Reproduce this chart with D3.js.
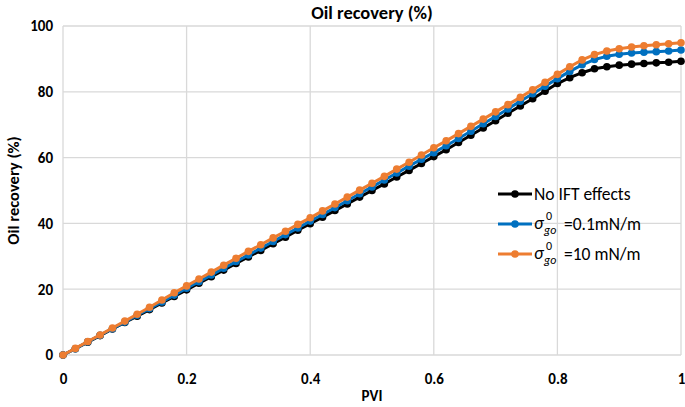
<!DOCTYPE html>
<html><head><meta charset="utf-8">
<script src="https://cdn.jsdelivr.net/npm/d3@7"></script>
<style>
body{margin:0;background:#fff;}
text{font-family:Carlito,Calibri,Lato,sans-serif;}
</style></head>
<body><svg id="c" width="685" height="407"></svg>
<script>
const pvi = d3.range(0, 51).map(i => +(i * 0.02).toFixed(2));
const noIFT = [0, 1.9, 3.9, 5.9, 7.9, 9.9, 11.8, 13.8, 15.8, 17.8, 19.8,
  21.8, 23.8, 25.8, 27.8, 29.8, 31.8, 33.8, 35.8, 37.9, 39.9,
  41.9, 43.9, 45.9, 48.0, 50.0, 52.0, 54.1, 56.1, 58.2, 60.3,
  62.4, 64.6, 66.8, 69.0, 71.2, 73.5, 75.7, 77.9, 80.2, 82.5,
  84.3, 85.8, 87.0, 87.6, 88.1, 88.4, 88.6, 88.8, 89.0, 89.3];
const sigma01 = [0, 1.9, 4.0, 6.0, 8.0, 10.0, 12.1, 14.1, 16.1, 18.2, 20.3,
  22.3, 24.3, 26.4, 28.4, 30.4, 32.5, 34.5, 36.6, 38.6, 40.7,
  42.7, 44.8, 46.9, 49.0, 51.1, 53.2, 55.3, 57.4, 59.5, 61.5,
  63.6, 65.8, 68.0, 70.3, 72.5, 74.8, 77.1, 79.4, 81.7, 84.0,
  86.2, 88.2, 89.8, 90.8, 91.4, 91.8, 92.0, 92.2, 92.4, 92.7];
const sigma10 = [0, 2.0, 4.1, 6.1, 8.2, 10.3, 12.4, 14.5, 16.7, 18.9, 21.0,
  23.1, 25.2, 27.3, 29.4, 31.5, 33.5, 35.6, 37.6, 39.7, 41.7,
  43.8, 45.9, 48.0, 50.1, 52.2, 54.3, 56.5, 58.6, 60.8, 63.0,
  65.1, 67.3, 69.5, 71.7, 73.9, 76.1, 78.3, 80.6, 82.9, 85.3,
  87.6, 89.7, 91.3, 92.4, 93.1, 93.6, 94.0, 94.3, 94.6, 94.9];
const xTicks = [0, 0.2, 0.4, 0.6, 0.8, 1];
const yTicks = [0, 20, 40, 60, 80, 100];
const seriesNames = ["No IFT effects", "=0.1mN/m", "=10 mN/m"];
const seriesColors = ["#000000", "#0070c0", "#ed7d31"];
const seriesValues = [noIFT, sigma01, sigma10];

const svg = d3.select("#c");
const L = 63, R = 681, T = 26, B = 355;
const x = d3.scaleLinear().domain([0, 1]).range([L, R]);
const y = d3.scaleLinear().domain([0, 100]).range([B, T]);

// grid
const grid = svg.append("g");
grid.selectAll(".gx").data(xTicks).join("line")
  .attr("x1", d => x(d)).attr("x2", d => x(d)).attr("y1", T).attr("y2", B)
  .attr("stroke", "#d9d9d9").attr("stroke-width", 1.3);
grid.selectAll(".gy").data(yTicks).join("line")
  .attr("y1", d => y(d)).attr("y2", d => y(d)).attr("x1", L).attr("x2", R)
  .attr("stroke", "#d9d9d9").attr("stroke-width", 1.3);

// axes
const xAxis = svg.append("g").attr("transform", `translate(0,${B})`)
  .call(d3.axisBottom(x).tickValues(xTicks).tickSize(0).tickPadding(18).tickFormat(d => d3.format("")(d)));
const yAxis = svg.append("g").attr("transform", `translate(${L},0)`)
  .call(d3.axisLeft(y).tickValues(yTicks).tickSize(0).tickPadding(10));
[xAxis, yAxis].forEach(a => {
  a.select(".domain").remove();
  a.selectAll("text").attr("font-family", "Carlito,Calibri,Lato,sans-serif")
    .attr("font-size", 15).attr("font-weight", "bold").attr("fill", "#000");
});

// series
const line = d3.line().x((d, i) => x(pvi[i])).y(d => y(d));
seriesValues.forEach((vals, k) => {
  const g = svg.append("g");
  g.append("path").datum(vals).attr("d", line).attr("fill", "none")
    .attr("stroke", seriesColors[k]).attr("stroke-width", 3);
  g.selectAll("circle").data(vals).join("circle")
    .attr("cx", (d, i) => x(pvi[i])).attr("cy", d => y(d)).attr("r", 3.8)
    .attr("fill", seriesColors[k]);
});

// titles
svg.append("text").attr("x", (L + R) / 2).attr("y", 19).attr("text-anchor", "middle")
  .attr("font-size", 18.5).attr("font-weight", "bold").text("Oil recovery (%)");
svg.append("text").attr("x", (L + R) / 2).attr("y", 401).attr("text-anchor", "middle")
  .attr("font-size", 15).attr("font-weight", "bold").text("PVI");
svg.append("text").attr("transform", `translate(19,${(T + B) / 2}) rotate(-90)`)
  .attr("text-anchor", "middle").attr("font-size", 16.5).attr("font-weight", "bold")
  .text("Oil recovery (%)");

// legend
const legY = [194, 224, 254];
seriesNames.forEach((name, k) => {
  const g = svg.append("g").attr("transform", `translate(0,${legY[k]})`);
  g.append("line").attr("x1", 498).attr("x2", 532).attr("y1", 0).attr("y2", 0)
    .attr("stroke", seriesColors[k]).attr("stroke-width", 3);
  g.append("circle").attr("cx", 515).attr("cy", 0).attr("r", 3.8).attr("fill", seriesColors[k]);
  if (k === 0) {
    g.append("text").attr("x", 534).attr("y", 6).attr("font-size", 17.5).text(name);
  } else {
    g.append("text").attr("x", 534).attr("y", 5).attr("font-size", 18)
      .attr("font-style", "italic").attr("font-family", "DejaVu Serif, serif").text("σ");
    g.append("text").attr("x", 544).attr("y", 10).attr("font-size", 12)
      .attr("font-style", "italic").attr("font-family", "DejaVu Serif, serif").text("go");
    g.append("text").attr("x", 546).attr("y", -4).attr("font-size", 12)
      .attr("font-family", "DejaVu Serif, serif").text("0");
    g.append("text").attr("x", 564).attr("y", 6).attr("font-size", 17.5).text(name);
  }
});
</script></body></html>
